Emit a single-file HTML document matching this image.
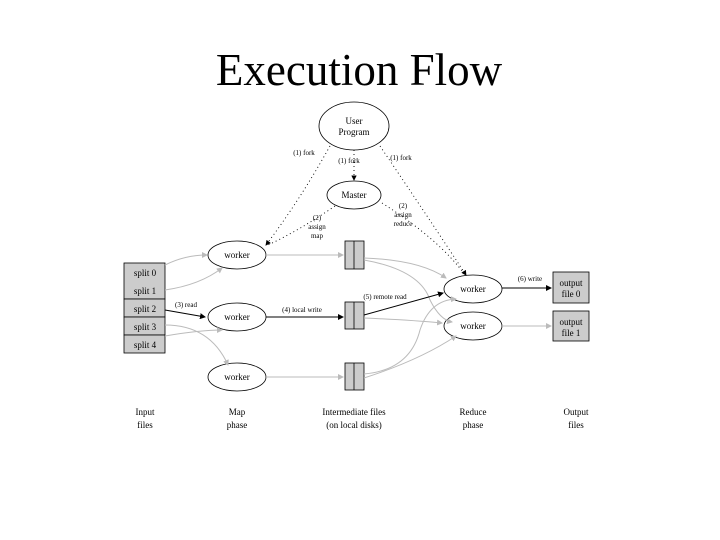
<!DOCTYPE html>
<html><head><meta charset="utf-8"><style>
html,body{margin:0;padding:0;background:#fff;width:720px;height:540px;overflow:hidden}
</style></head><body>
<svg width="720" height="540" xmlns="http://www.w3.org/2000/svg" font-family="Liberation Serif, serif">
<defs>
<marker id="ak" markerWidth="6" markerHeight="6" refX="5" refY="3" orient="auto"><path d="M0,0 L6,3 L0,6z" fill="#000"/></marker>
<marker id="ag" markerWidth="6" markerHeight="6" refX="5" refY="3" orient="auto"><path d="M0,0 L6,3 L0,6z" fill="#bbb"/></marker>
</defs>
<text x="359" y="85" font-size="45" text-anchor="middle" fill="#000">Execution Flow</text>
<g fill="none" stroke="#000" stroke-width="0.8">
<ellipse cx="354" cy="126" rx="35" ry="24"/>
<ellipse cx="354" cy="195" rx="27" ry="14"/>
<ellipse cx="237" cy="255" rx="29" ry="14"/>
<ellipse cx="237" cy="317" rx="29" ry="14"/>
<ellipse cx="237" cy="377" rx="29" ry="14"/>
<ellipse cx="473" cy="289" rx="29" ry="14"/>
<ellipse cx="473" cy="326" rx="29" ry="14"/>
</g>
<g fill="#ccc" stroke="#000" stroke-width="0.8">
<rect x="124" y="263" width="41" height="36"/>
<rect x="124" y="299" width="41" height="18"/>
<rect x="124" y="317" width="41" height="18"/>
<rect x="124" y="335" width="41" height="18"/>
<rect x="345" y="241" width="19" height="28"/><line x1="354" y1="241" x2="354" y2="269"/>
<rect x="345" y="302" width="19" height="27"/><line x1="354" y1="302" x2="354" y2="329"/>
<rect x="345" y="363" width="19" height="27"/><line x1="354" y1="363" x2="354" y2="390"/>
<rect x="553" y="272" width="36" height="31"/>
<rect x="553" y="311" width="36" height="30"/>
</g>
<g fill="none" stroke="#000" stroke-width="0.9" stroke-dasharray="1,3">
<path d="M330 146 Q300 200 266 245" marker-end="url(#ak)"/>
<path d="M354 150 L354 180" marker-end="url(#ak)"/>
<path d="M380 146 Q430 220 466 275" marker-end="url(#ak)"/>
<path d="M335 206 Q300 230 268 245"/>
<path d="M382 203 Q440 240 465 275"/>
</g>
<g fill="none" stroke="#bbb" stroke-width="1">
<path d="M165 265 Q185 255 207 255" marker-end="url(#ag)"/>
<path d="M165 290 Q200 285 222 268" marker-end="url(#ag)"/>
<path d="M165 336 Q200 330 222 330" marker-end="url(#ag)"/>
<path d="M165 325 Q210 325 228 365" marker-end="url(#ag)"/>
<path d="M266 255 L343 255" marker-end="url(#ag)"/>
<path d="M266 377 L343 377" marker-end="url(#ag)"/>
<path d="M364 258 Q420 260 446 278" marker-end="url(#ag)"/>
<path d="M364 260 Q420 270 430 300 Q440 320 452 322" marker-end="url(#ag)"/>
<path d="M364 318 Q410 320 442 323" marker-end="url(#ag)"/>
<path d="M364 374 Q410 370 420 330 Q430 300 456 299" marker-end="url(#ag)"/>
<path d="M364 378 Q420 360 456 336" marker-end="url(#ag)"/>
<path d="M502 326 L551 326" marker-end="url(#ag)"/>
</g>
<g fill="none" stroke="#000" stroke-width="1">
<path d="M165 310 L205 317" marker-end="url(#ak)"/>
<path d="M266 317 L343 317" marker-end="url(#ak)"/>
<path d="M364 315 L443 293" marker-end="url(#ak)"/>
<path d="M502 288 L551 288" marker-end="url(#ak)"/>
</g>
<g font-size="9" fill="#000" text-anchor="middle">
<text x="354" y="124">User</text><text x="354" y="135">Program</text>
<text x="354" y="198">Master</text>
<text x="237" y="258">worker</text><text x="237" y="320">worker</text><text x="237" y="380">worker</text>
<text x="473" y="292">worker</text><text x="473" y="329">worker</text>
<text x="145" y="276">split 0</text><text x="145" y="294">split 1</text>
<text x="145" y="312">split 2</text><text x="145" y="330">split 3</text><text x="145" y="348">split 4</text>
<text x="571" y="286">output</text><text x="571" y="297">file 0</text>
<text x="571" y="325">output</text><text x="571" y="336">file 1</text>
<g font-size="7">
<text x="304" y="155">(1) fork</text><text x="349" y="163">(1) fork</text><text x="401" y="160">(1) fork</text>
<text x="317" y="220">(2)</text><text x="317" y="229">assign</text><text x="317" y="238">map</text>
<text x="403" y="208">(2)</text><text x="403" y="217">assign</text><text x="403" y="226">reduce</text>
<text x="186" y="307">(3) read</text><text x="302" y="312">(4) local write</text>
<text x="385" y="299">(5) remote read</text><text x="530" y="281">(6) write</text>
</g>
<text x="145" y="415">Input</text><text x="145" y="428">files</text>
<text x="237" y="415">Map</text><text x="237" y="428">phase</text>
<text x="354" y="415">Intermediate files</text><text x="354" y="428">(on local disks)</text>
<text x="473" y="415">Reduce</text><text x="473" y="428">phase</text>
<text x="576" y="415">Output</text><text x="576" y="428">files</text>
</g>
</svg>
</body></html>
